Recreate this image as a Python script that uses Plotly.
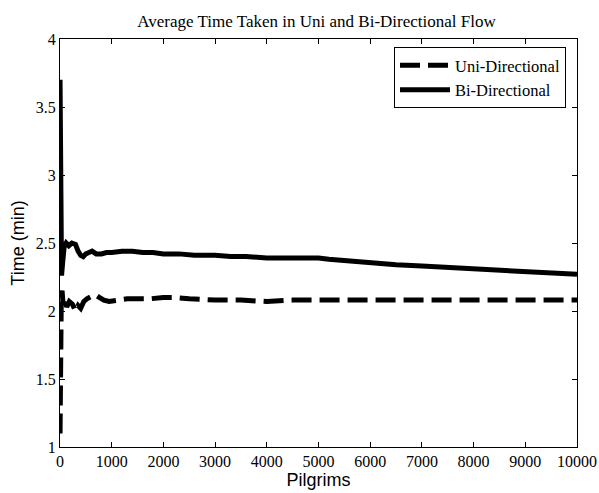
import plotly.graph_objects as go

# Bi-directional average time (min) vs pilgrims
bi_x = [1, 5, 15, 30, 50, 80, 120, 170, 230, 300, 350, 400, 450, 500, 560, 620, 700, 800,
        900, 1000, 1200, 1400, 1600, 1800, 2000, 2300, 2600, 3000, 3300, 3600, 4000, 4500,
        5000, 5200, 5500, 6000, 6500, 7000, 7500, 8000, 8500, 9000, 9500, 10000]
bi_y = [3.7, 3.0, 2.4, 2.26, 2.35, 2.47, 2.5, 2.48, 2.5, 2.49, 2.44, 2.41, 2.40, 2.42, 2.43,
        2.44, 2.42, 2.42, 2.43, 2.43, 2.44, 2.44, 2.43, 2.43, 2.42, 2.42, 2.41, 2.41, 2.40,
        2.40, 2.39, 2.39, 2.39, 2.38, 2.37, 2.35, 2.34, 2.33, 2.32, 2.31, 2.30, 2.29, 2.28, 2.27]

# Uni-directional average time (min) vs pilgrims
uni_x = [1, 10, 25, 40, 60, 90, 130, 180, 240, 300, 350, 400, 460, 520, 600, 680, 760, 850,
         950, 1100, 1300, 1500, 1750, 2000, 2200, 2500, 3000, 3500, 4000, 4500, 5000, 6000,
         7000, 8000, 9000, 10000]
uni_y = [1.1, 1.8, 2.1, 2.15, 2.05, 2.1, 2.03, 2.07, 2.05, 2.0, 2.04, 2.02, 2.07, 2.09, 2.11,
         2.12, 2.10, 2.08, 2.07, 2.08, 2.09, 2.09, 2.09, 2.10, 2.10, 2.09, 2.08, 2.08, 2.07,
         2.08, 2.08, 2.08, 2.08, 2.08, 2.08, 2.08]

x_ticks = [0, 1000, 2000, 3000, 4000, 5000, 6000, 7000, 8000, 9000, 10000]
y_ticks = [1, 1.5, 2, 2.5, 3, 3.5, 4]

fig = go.Figure()
fig.add_trace(go.Scatter(x=uni_x, y=uni_y, mode="lines", name="Uni-Directional",
                         line=dict(color="black", width=5, dash="20px,8px")))
fig.add_trace(go.Scatter(x=bi_x, y=bi_y, mode="lines", name="Bi-Directional",
                         line=dict(color="black", width=5)))

serif = "Liberation Serif, Times New Roman, serif"
sans = "Liberation Sans, Arial, sans-serif"

axis_common = dict(showline=True, linecolor="black", linewidth=1, mirror="ticks",
                   ticks="inside", ticklen=5, tickcolor="black", showgrid=False,
                   zeroline=False, automargin=False,
                   tickfont=dict(family=serif, size=16, color="black"))

fig.update_layout(
    width=599, height=493,
    margin=dict(l=60, r=22, t=39, b=46),
    paper_bgcolor="white", plot_bgcolor="white",
    title=dict(text="Average Time Taken in Uni and Bi-Directional Flow",
               font=dict(family=serif, size=17, color="black"),
               x=(316.5) / 599, xanchor="center", xref="container",
               y=1 - 21 / 493, yanchor="middle", yref="container"),
    xaxis=dict(range=[0, 10000], tickvals=x_ticks, ticktext=[str(v) for v in x_ticks],
               title=dict(text="Pilgrims", font=dict(family=sans, size=18, color="black"),
                          standoff=2),
               **axis_common),
    yaxis=dict(range=[1, 4], tickvals=y_ticks, ticktext=[("%g" % v) for v in y_ticks],
               title=dict(text="Time (min)", font=dict(family=sans, size=18, color="black"),
                          standoff=6),
               **axis_common),
    legend=dict(x=(566 - 60) / 517, y=(447 - 47) / 408, xanchor="right", yanchor="top",
                bordercolor="black", borderwidth=1, bgcolor="white",
                font=dict(family=serif, size=16.5, color="black"),
                tracegroupgap=0, itemwidth=50),
    showlegend=True,
)

fig.write_html("out.html")
